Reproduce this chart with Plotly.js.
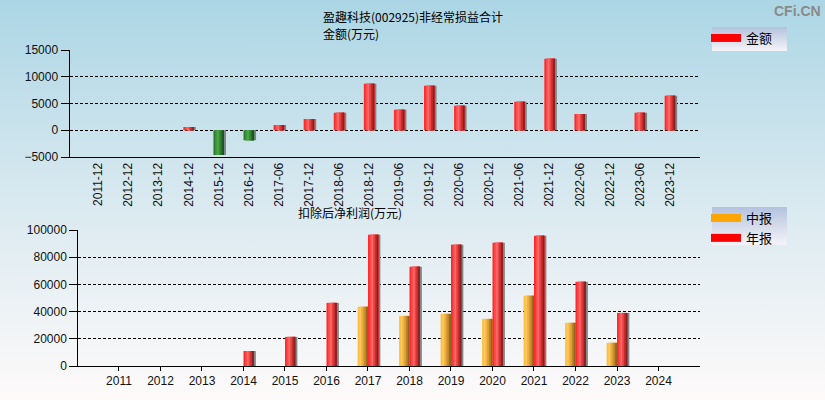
<!DOCTYPE html>
<html>
<head>
<meta charset="utf-8">
<script src="https://cdn.plot.ly/plotly-3.0.1.min.js"></script>
<style>
  html, body { margin: 0; padding: 0; }
  body { width: 825px; height: 400px; position: relative; overflow: hidden;
         background: linear-gradient(to bottom, #acd6e5 0%, #d9e9f0 50%, #fefafa 100%); }
  .lgbox { position: absolute; background: linear-gradient(to bottom, #b3c2de 0%, #f6f4f8 100%); }
  #chart { position: absolute; left: 0; top: 0; width: 825px; height: 400px; }
</style>
</head>
<body>
<div class="lgbox" style="left:712px; top:27px; width:75px; height:24px;"></div>
<div class="lgbox" style="left:712px; top:207px; width:75px; height:38px;"></div>
<div id="chart"></div>
<script>
// ---- data ----
const periods = ['2011-12','2012-12','2013-12','2014-12','2015-12','2016-12','2017-06','2017-12',
                 '2018-06','2018-12','2019-06','2019-12','2020-06','2020-12','2021-06','2021-12',
                 '2022-06','2022-12','2023-06','2023-12'];
const nonRecurring = [null, null, null, 600, -4630, -1850, 1000, 2120,
                      3250, 8690, 3810, 8310, 4560, null, 5310, 13380,
                      3060, null, 3250, 6440];
const years = ['2011','2012','2013','2014','2015','2016','2017','2018','2019','2020','2021','2022','2023','2024'];
const midReport = [null, null, null, null, null, null, 43500, 36800, 38300, 34600, 51600, 31700, 17000, null];
const annualReport = [null, null, null, 11000, 21400, 46400, 96500, 73000, 89200, 90600, 95800, 61900, 39000, null];

const topTitle1 = '盈趣科技(002925)非经常损益合计';
const topTitle2 = '金额(万元)';
const bottomTitle = '扣除后净利润(万元)';

// ---- style ----
const RED_SHADES = ['#ff2b2b', '#ff4c4c', '#ff6868', '#ea4444', '#c42e2e', '#8e1e1e'];
const GREEN_SHADES = ['#2c7c2c', '#3c983c', '#4aaa4a', '#389038', '#2a722a', '#1c521c'];
const ORANGE_SHADES = ['#ffbe3e', '#ffc95e', '#f2b246', '#dc9c34', '#bc842a', '#8e6620'];
const SHADOW = '#7f8688';
const FONT = 'Liberation Sans, Arial, Noto Sans CJK SC, sans-serif';
const CJK = 'Noto Sans CJK SC, sans-serif';

// build a shaded (cylinder-like) bar from several overlapping bar traces of the same data
function shadedBars(x, y, xa, ya, center, width, shadeFor, pxUnit) {
  const out = [];
  out.push({ type: 'bar', x: x, y: y, xaxis: xa, yaxis: ya, showlegend: false, hoverinfo: 'skip',
             offset: center - width / 2 + 2 * pxUnit, width: width,
             marker: { color: SHADOW, line: { width: 0 } } });
  const n = RED_SHADES.length;
  for (let k = 0; k < n; k++) {
    out.push({ type: 'bar', x: x, y: y, xaxis: xa, yaxis: ya, showlegend: false,
               offset: center - width / 2 + k * width / n, width: width - k * width / n,
               marker: { color: y.map(v => shadeFor(v)[k]), line: { width: 0 } } });
  }
  return out;
}

const signShade = v => (v !== null && v < 0) ? GREEN_SHADES : RED_SHADES;

const traces = [].concat(
  shadedBars(periods, nonRecurring, 'x', 'y', 0, 0.35, signShade, 1 / 30.1),
  shadedBars(years, midReport, 'x2', 'y2', -0.125, 0.25, () => ORANGE_SHADES, 1 / 41.5),
  shadedBars(years, annualReport, 'x2', 'y2', 0.125, 0.25, () => RED_SHADES, 1 / 41.5),
  [
    { type: 'scatter', mode: 'lines', name: '金额', x: [null], y: [null], xaxis: 'x', yaxis: 'y',
      line: { color: '#ff0000', width: 8 }, legend: 'legend', hoverinfo: 'skip' },
    { type: 'scatter', mode: 'lines', name: '中报', x: [null], y: [null], xaxis: 'x2', yaxis: 'y2',
      line: { color: '#ffa500', width: 8 }, legend: 'legend2', hoverinfo: 'skip' },
    { type: 'scatter', mode: 'lines', name: '年报', x: [null], y: [null], xaxis: 'x2', yaxis: 'y2',
      line: { color: '#ff0000', width: 8 }, legend: 'legend2', hoverinfo: 'skip' }
  ]
);

const yCommon = {
  showline: true, linecolor: '#000', linewidth: 1,
  ticks: 'outside', ticklen: 8, tickcolor: '#000', tickwidth: 1,
  showgrid: true, gridcolor: '#000', gridwidth: 1, griddash: '3px,2px',
  zeroline: false, tickformat: 'd', tickfont: { family: FONT, size: 12, color: '#111' }
};

const layout = {
  width: 825, height: 400,
  margin: { l: 0, r: 0, t: 0, b: 0 },
  paper_bgcolor: 'rgba(0,0,0,0)', plot_bgcolor: 'rgba(0,0,0,0)',
  barmode: 'overlay',
  showlegend: true,
  xaxis: {
    domain: [69.5/825, 700/825], anchor: 'y', type: 'category',
    range: [-0.96, 20], showline: true, linecolor: '#000', linewidth: 1,
    ticks: '', tickangle: -90, showgrid: false,
    tickfont: { family: FONT, size: 12, color: '#111' }
  },
  yaxis: Object.assign({}, yCommon, {
    domain: [1 - 157/400, 1 - 50/400], anchor: 'x',
    range: [-5000, 15000], tickvals: [-5000, 0, 5000, 10000, 15000]
  }),
  xaxis2: {
    domain: [78.3/825, 700/825], anchor: 'y2', type: 'category',
    range: [-0.98, 14], showline: true, linecolor: '#000', linewidth: 1,
    ticks: 'outside', ticklen: 4, tickcolor: '#000', showgrid: false,
    tickfont: { family: FONT, size: 12, color: '#111' }
  },
  yaxis2: Object.assign({}, yCommon, {
    domain: [1 - 366/400, 1 - 230/400], anchor: 'x2',
    range: [0, 100000], tickvals: [0, 20000, 40000, 60000, 80000, 100000]
  }),
  legend: {
    x: 706/825, y: 1 - 23/400, xanchor: 'left', yanchor: 'top',
    bgcolor: 'rgba(0,0,0,0)', borderwidth: 0,
    font: { family: CJK, size: 13, color: '#000' }, itemwidth: 30
  },
  legend2: {
    x: 706/825, y: 1 - 203/400, xanchor: 'left', yanchor: 'top',
    bgcolor: 'rgba(0,0,0,0)', borderwidth: 0, traceorder: 'normal',
    font: { family: CJK, size: 13, color: '#000' }, itemwidth: 30
  },
  annotations: [
    { text: topTitle1, xref: 'paper', yref: 'paper', x: 322/825, y: 1 - 17/400,
      xanchor: 'left', yanchor: 'middle', align: 'left', showarrow: false, borderpad: 0,
      font: { family: CJK, size: 12, color: '#000' } },
    { text: topTitle2, xref: 'paper', yref: 'paper', x: 322/825, y: 1 - 33/400,
      xanchor: 'left', yanchor: 'middle', align: 'left', showarrow: false, borderpad: 0,
      font: { family: CJK, size: 12, color: '#000' } },
    { text: bottomTitle, xref: 'paper', yref: 'paper', x: 350/825, y: 1 - 212.5/400,
      xanchor: 'center', yanchor: 'middle', showarrow: false, borderpad: 0,
      font: { family: CJK, size: 12, color: '#000' } },
    { text: '<b>CFi.CN</b>', xref: 'paper', yref: 'paper', x: 823/825, y: 1 - 1/400,
      xanchor: 'right', yanchor: 'top', showarrow: false,
      font: { family: FONT, size: 14, color: '#8a8a8a' } }
  ]
};

Plotly.newPlot('chart', traces, layout, { displayModeBar: false, staticPlot: true });
</script>
</body>
</html>
